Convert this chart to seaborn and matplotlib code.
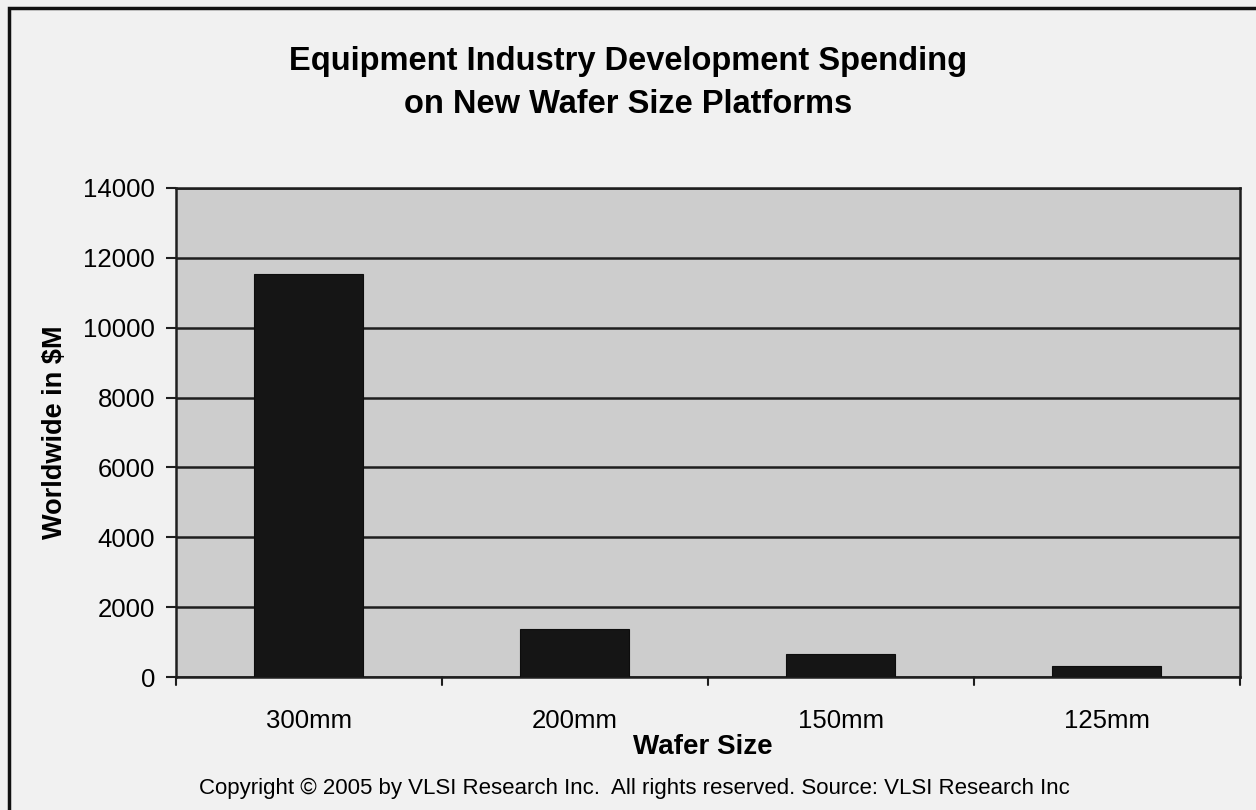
import matplotlib
matplotlib.use("Agg")
import matplotlib.pyplot as plt
import seaborn as sns
import pandas as pd
from matplotlib.patches import Rectangle

# Development spending by wafer size (worldwide, $M)
wafer_sizes = ["300mm", "200mm", "150mm", "125mm"]
spending = [11550, 1370, 650, 310]
y_ticks = [0, 2000, 4000, 6000, 8000, 10000, 12000, 14000]

title_text = "Equipment Industry Development Spending\non New Wafer Size Platforms"
x_label = "Wafer Size"
y_label = "Worldwide in $M"
footer = "Copyright \u00a9 2005 by VLSI Research Inc.  All rights reserved. Source: VLSI Research Inc"

sns.set_style("white")
plt.rcParams["font.family"] = ["Liberation Sans", "DejaVu Sans"]
plt.rcParams["text.color"] = "black"
plt.rcParams["axes.labelcolor"] = "black"
plt.rcParams["xtick.color"] = "black"
plt.rcParams["ytick.color"] = "black"

df = pd.DataFrame({"size": wafer_sizes, "spend": spending})

fig = plt.figure(figsize=(12.56, 8.10), dpi=100, facecolor="#f1f1f1")
ax = fig.add_axes([0.140, 0.164, 0.847, 0.604])
ax.set_facecolor("#cdcdcd")

sns.barplot(data=df, x="size", y="spend", color="#151515", width=0.41,
            saturation=1, edgecolor="#0d0d0d", linewidth=0.8, ax=ax, zorder=3)

ax.set_ylim(0, 14000)
ax.set_yticks(y_ticks)
ax.set_yticklabels([str(v) for v in y_ticks], fontsize=18.5)
ax.set_xlim(-0.5, len(wafer_sizes) - 0.5)
ax.set_xticks(range(len(wafer_sizes)))
ax.set_xticklabels(wafer_sizes, fontsize=18.5)
ax.tick_params(axis="x", length=0, pad=23)
ax.tick_params(axis="y", length=7, width=1.5, color="#1e1e1e", pad=8, left=True)

# category boundary ticks below the x axis
for b in [-0.5, 0.5, 1.5, 2.5, 3.5]:
    ax.plot([b, b], [0, -230], color="#1e1e1e", lw=1.5, clip_on=False, zorder=4)

ax.grid(axis="y", color="#1e1e1e", linewidth=1.8, zorder=1)
ax.set_axisbelow(True)
for s in ax.spines.values():
    s.set_visible(True)
    s.set_color("#1e1e1e")
    s.set_linewidth(1.8)

ax.set_xlabel(x_label, fontsize=20, fontweight="bold", labelpad=0)
ax.xaxis.set_label_coords(0.495, -0.117)
ax.set_ylabel(y_label, fontsize=19.5, fontweight="bold", labelpad=11)

fig.text(0.5, 0.897, title_text, ha="center", va="center", fontsize=23.5,
         fontweight="bold", linespacing=1.5)
fig.text(0.505, 0.027, footer, ha="center", va="center", fontsize=16.0)

# outer frame of the chart
fig.patches.append(Rectangle((0.007, -0.05), 1.2, 1.04, transform=fig.transFigure,
                             fill=False, edgecolor="#111111", linewidth=2.5))

fig.savefig("out.png", dpi=100, facecolor=fig.get_facecolor())
